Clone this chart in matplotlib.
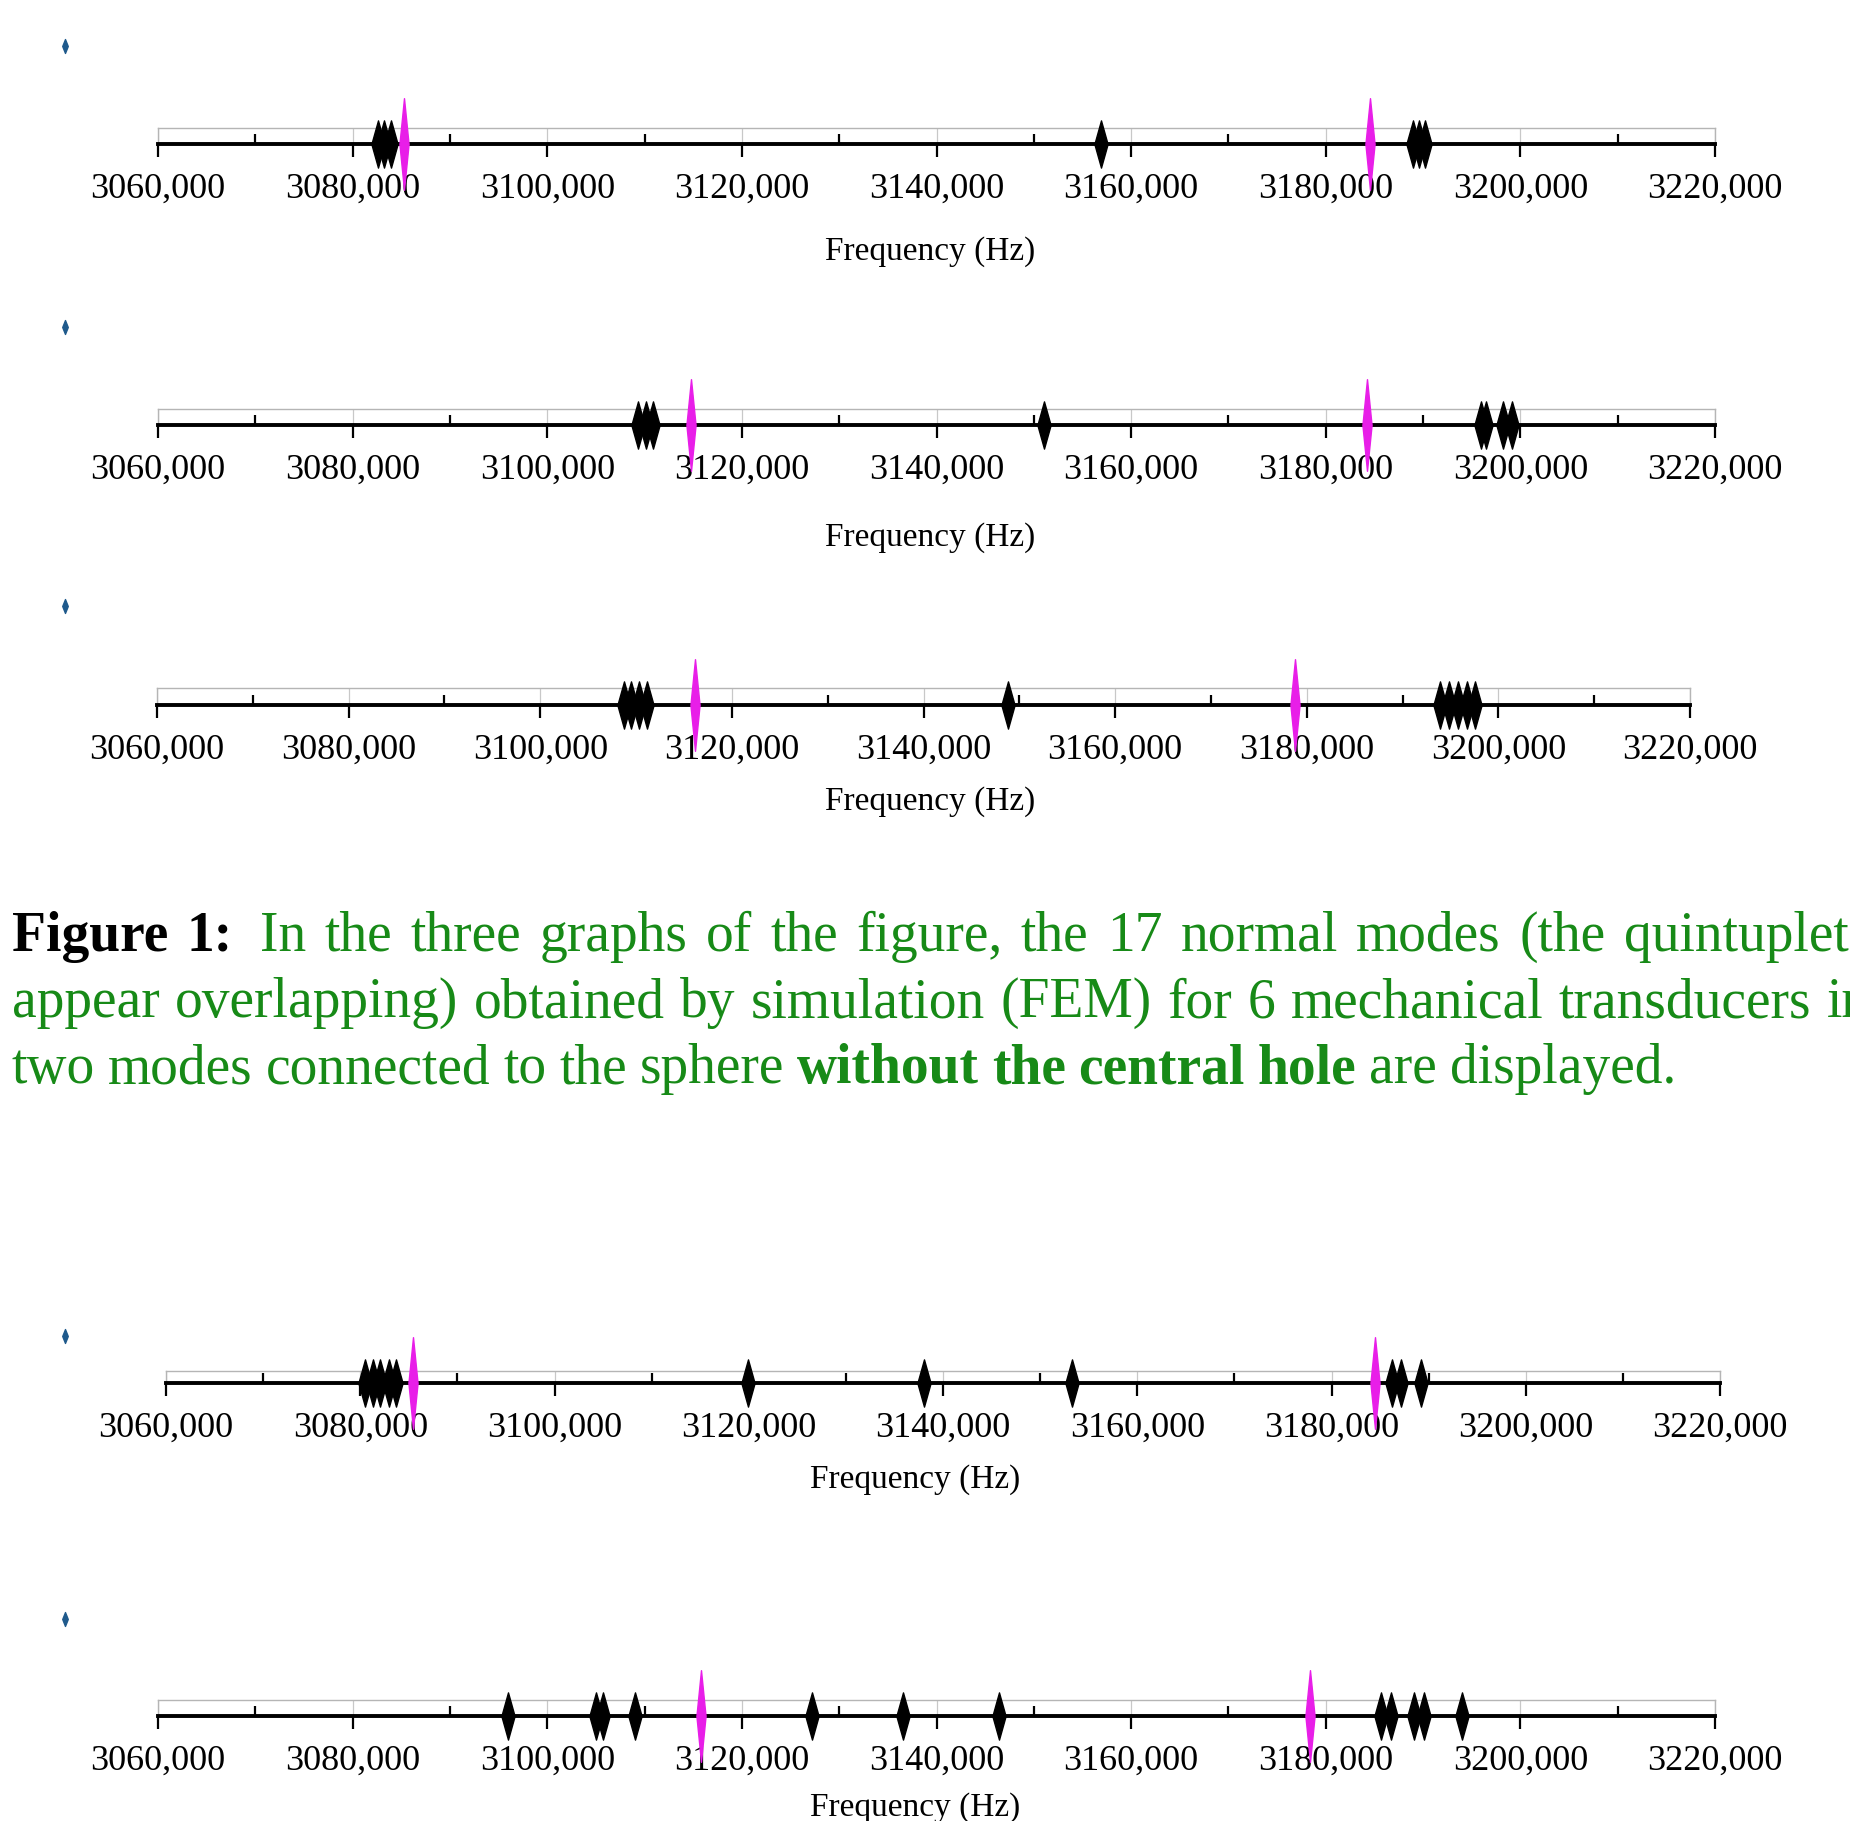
import matplotlib
matplotlib.use("Agg")
import matplotlib.pyplot as plt
from matplotlib.path import Path
from matplotlib.lines import Line2D

plt.rcParams['font.family'] = ['Liberation Serif', 'DejaVu Serif']

# --- data (Hz) ---
tick_values = [3060, 3080, 3100, 3120, 3140, 3160, 3180, 3200, 3220]
tick_labels = [f"{v:.3f}".replace('.', ',') for v in tick_values]
minor_values = [3070, 3090, 3110, 3130, 3150, 3170, 3190, 3210]

p1_black = [3082.6, 3083.2, 3083.9, 3156.9, 3189.0, 3189.6, 3190.2]
p1_magenta = [3085.3, 3184.5]
p2_black = [3109.3, 3110.1, 3110.9, 3151.0, 3196.0, 3196.5, 3198.2, 3199.1]
p2_magenta = [3114.8, 3184.2]
p3_black = [3108.7, 3109.5, 3110.3, 3111.1, 3148.8, 3193.9, 3194.8, 3195.8, 3196.7, 3197.6]
p3_magenta = [3116.1, 3178.8]
p4_black = [3080.5, 3081.3, 3082.0, 3083.0, 3083.7, 3119.9, 3138.0, 3153.3, 3186.2, 3187.2, 3189.2]
p4_magenta = [3085.4, 3184.5]
p5_black = [3096.0, 3105.0, 3105.7, 3109.0, 3127.2, 3136.6, 3146.4, 3185.7, 3186.7, 3189.1, 3190.1, 3194.0]
p5_magenta = [3115.8, 3178.4]

blacks = [p1_black, p2_black, p3_black, p4_black, p5_black]
magentas = [p1_magenta, p2_magenta, p3_magenta, p4_magenta, p5_magenta]

W, H = 1850, 1821
fig = plt.figure(figsize=(W / 100, H / 100), dpi=100)


def diamond(w):
    verts = [(0, 1), (w, 0), (0, -1), (-w, 0), (0, 1)]
    codes = [Path.MOVETO, Path.LINETO, Path.LINETO, Path.LINETO, Path.CLOSEPOLY]
    return Path(verts, codes)


black_marker = diamond(0.28)
mag_marker = diamond(0.1)
blue_marker = diamond(0.4)

# panel geometry in pixels: x0, x1, box top, axis line, xlabel centre (x, y), legend diamond y
panels = [
    (158, 1715, 128, 144, 930, 252, 47),
    (158, 1715, 409, 425, 930, 538, 328),
    (157, 1690, 688, 705, 930, 802, 607),
    (166, 1720, 1371, 1383, 915, 1480, 1337),
    (158, 1715, 1700, 1716, 915, 1808, 1620),
]

for (x0, x1, top, base, lx, ly, dy), bl, mg in zip(panels, blacks, magentas):
    ax = fig.add_axes([x0 / W, 1 - base / H, (x1 - x0) / W, (base - top) / H])
    ax.set_xlim(3060, 3220)
    ax.set_ylim(0, 1)
    ax.set_yticks([])
    for side in ['top', 'left', 'right']:
        ax.spines[side].set_color('#b5b5b5')
        ax.spines[side].set_linewidth(1.0)
    ax.spines['bottom'].set_linewidth(2.8)
    ax.set_xticks(tick_values)
    ax.set_xticklabels(tick_labels, fontsize=26)
    ax.set_xticks(minor_values, minor=True)
    ax.tick_params(axis='x', which='major', direction='out', length=9.5, width=1.6, pad=11)
    ax.tick_params(axis='x', which='minor', direction='in', length=7, width=1.6)
    ax.grid(axis='x', which='major', color='#c8c8c8', lw=0.9)
    ax.plot(bl, [0] * len(bl), ls='none', marker=black_marker, ms=34,
            color='black', clip_on=False, zorder=5)
    ax.plot(mg, [0] * len(mg), ls='none', marker=mag_marker, ms=66,
            color='#e81ee8', clip_on=False, zorder=6)
    ax.set_xlabel('Frequency (Hz)', fontsize=24)
    hpx = base - top
    ax.xaxis.set_label_coords((lx - x0) / (x1 - x0), -(ly - base) / hpx)
    ax.xaxis.label.set_va('center')

    fig.legend(handles=[Line2D([], [], ls='none', marker=blue_marker, ms=10, color='#1f5a8c')],
               labels=[''], loc='center', bbox_to_anchor=(65 / W, 1 - dy / H),
               frameon=False, handlelength=0.6, handletextpad=0, borderpad=0, borderaxespad=0)

# --- caption, justified like the source (right margin lies past the cropped edge) ---
green = '#178a17'
caption = [
    ([("Figure 1:", "bold", "black"),
      ("In the three graphs of the figure, the 17 normal modes (the quintuplets", "normal", green)],
     951, 1870),
    ([("appear overlapping) obtained by simulation (FEM) for 6 mechanical transducers in", "normal", green)],
     1017, 1870),
    ([("two modes connected to the sphere", "normal", green),
      ("without the central hole", "bold", green),
      ("are displayed.", "normal", green)],
     1083, None),
]

renderer = fig.canvas.get_renderer()
cap_size = 40


def text_width(s, weight='normal'):
    t = fig.text(0, 0, s, fontsize=cap_size, fontweight=weight)
    wdt = t.get_window_extent(renderer).width
    t.remove()
    return wdt


space = text_width("a a") - text_width("aa")

for segs, ybase, xright in caption:
    words = []
    for s, weight, color in segs:
        for w in s.split():
            words.append((w, weight, color))
    texts = [fig.text(0, 1 - ybase / H, w, fontsize=cap_size, fontweight=weight,
                      color=color, va='baseline', ha='left')
             for w, weight, color in words]
    widths = [t.get_window_extent(renderer).width for t in texts]
    extra = space * 0.6 if words[1][0] == "1:" else 0
    if xright is None:
        gap = space - 1
    else:
        gap = (xright - 12 - sum(widths) - extra) / (len(words) - 1)
    x = 12
    for i, (t, wdt) in enumerate(zip(texts, widths)):
        t.set_x(x / W)
        x += wdt + gap
        if words[i][0] == "1:":
            x += extra

fig.savefig("out.png", dpi=100)
